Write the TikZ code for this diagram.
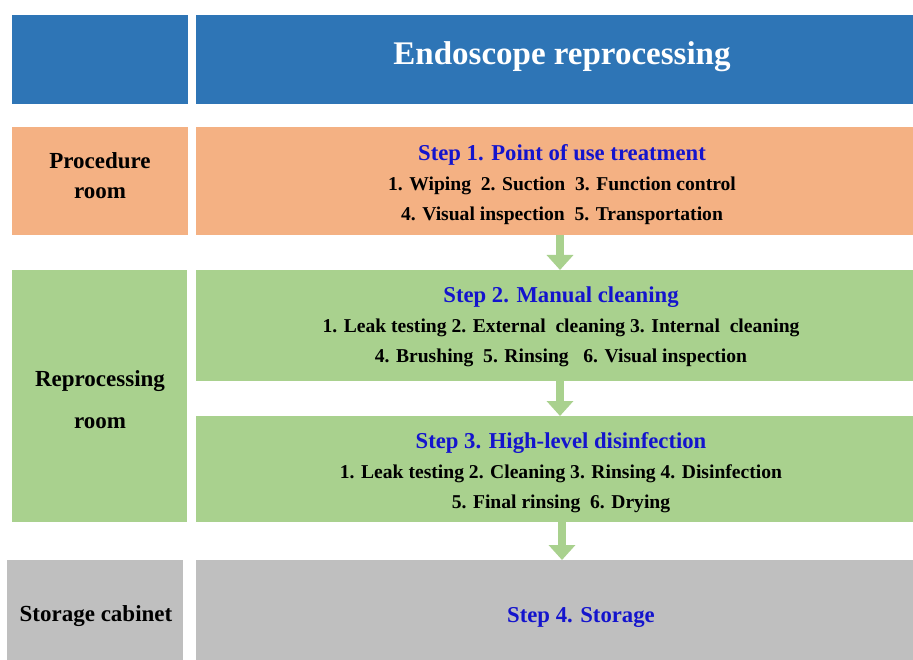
\documentclass[tikz,border=0pt]{standalone}
\usepackage{fontspec}
\setmainfont{Liberation Serif}
\usetikzlibrary{arrows.meta}
\definecolor{hblue}{RGB}{46,117,182}
\definecolor{horange}{RGB}{244,177,131}
\definecolor{hgreen}{RGB}{169,209,142}
\definecolor{hgray}{RGB}{191,191,191}
\definecolor{stepblue}{RGB}{20,20,205}
\tikzset{
  box/.style={anchor=north west, inner sep=0pt, draw=none},
  lbl/.style={font=\bfseries\fontsize{23}{30}\selectfont, align=center, text=black},
  head/.style={font=\bfseries\fontsize{22.7}{26}\selectfont, text=stepblue},
  body/.style={font=\bfseries\fontsize{19.6}{22}\selectfont, text=black},
  flow/.style={draw=hgreen, line width=8pt, -{Triangle[width=26pt,length=15pt]}, shorten >=0pt}
}
\begin{document}
\begin{tikzpicture}[x=1pt,y=1pt]
\useasboundingbox (0,0) rectangle (913,-660);
% header row
\node[box, fill=hblue, minimum width=176pt, minimum height=89pt] (hl) at (12,-15) {};
\node[box, fill=hblue, minimum width=717pt, minimum height=89pt] (hr) at (196,-15) {};
\node[font=\bfseries\fontsize{33}{36}\selectfont, text=white] (title) at (562,-57) {Endoscope reprocessing};
% procedure room
\node[box, fill=horange, minimum width=176pt, minimum height=108pt] (pl) at (12,-127) {};
\node[box, fill=horange, minimum width=717pt, minimum height=108pt] (s1) at (196,-127) {};
\node[lbl] (plt) at (100,-176) {Procedure\\room};
\node[head] (s1h) at (562,-155) {Step 1. Point of use treatment};
\node[body] (s1a) at (562,-186) {1. Wiping\ \ 2. Suction\ \ 3. Function control};
\node[body] (s1b) at (562,-216) {4. Visual inspection\ \ 5. Transportation};
% reprocessing room
\node[box, fill=hgreen, minimum width=175pt, minimum height=252pt] (rl) at (12,-270) {};
\node[box, fill=hgreen, minimum width=717pt, minimum height=111pt] (s2) at (196,-270) {};
\node[box, fill=hgreen, minimum width=717pt, minimum height=106pt] (s3) at (196,-416) {};
\node[lbl] (rlt1) at (100,-381) {Reprocessing};
\node[lbl] (rlt2) at (100,-423) {room};
\node[head] (s2h) at (561,-297) {Step 2. Manual cleaning};
\node[body] (s2a) at (561,-328) {1. Leak testing 2. External\ \ cleaning 3. Internal\ \ cleaning};
\node[body] (s2b) at (561,-358) {4. Brushing\ \ 5. Rinsing\ \ \ 6. Visual inspection};
\node[head] (s3h) at (561,-443) {Step 3. High-level disinfection};
\node[body] (s3a) at (561,-474) {1. Leak testing 2. Cleaning 3. Rinsing 4. Disinfection};
\node[body] (s3b) at (561,-504) {5. Final rinsing\ \ 6. Drying};
% storage
\node[box, fill=hgray, minimum width=176pt, minimum height=100pt] (gl) at (7,-560) {};
\node[box, fill=hgray, minimum width=717pt, minimum height=100pt] (s4) at (196,-560) {};
\node[lbl] (glt) at (96,-616) {Storage cabinet};
\node[head] (s4h) at (581,-617) {Step 4. Storage};
% arrows
\draw[flow] (s1.south -| 560,0) -- (s2.north -| 560,0);
\draw[flow] (s2.south -| 560,0) -- (s3.north -| 560,0);
\draw[flow] (s3.south -| 562,0) -- (s4.north -| 562,0);
\end{tikzpicture}
\end{document}
